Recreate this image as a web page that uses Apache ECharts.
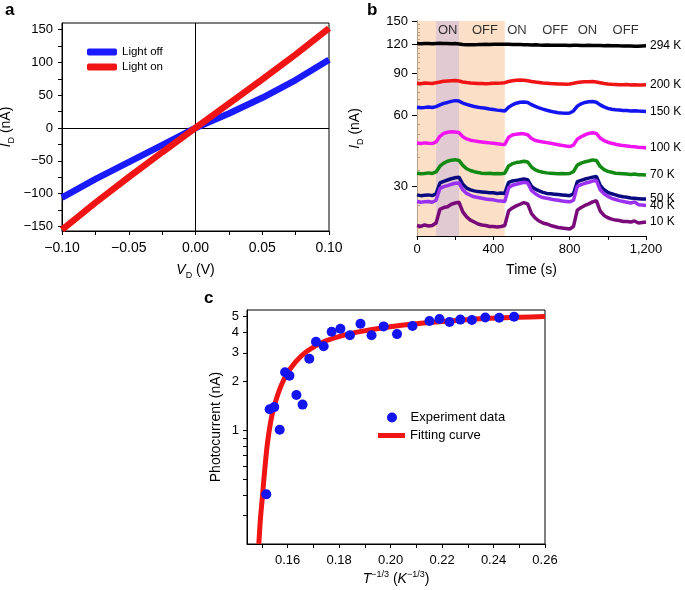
<!DOCTYPE html>
<html><head><meta charset="utf-8">
<script src="https://cdn.jsdelivr.net/npm/echarts@6/dist/echarts.min.js"></script>
<style>html,body{margin:0;padding:0;background:#fff}#c{width:685px;height:590px}</style>
</head><body><div id="c"></div>
<script>
const FONT = "'Liberation Sans', Arial, Helvetica, sans-serif";

// ---------- Panel a ----------
const vd = [-0.1, -0.075, -0.05, -0.025, 0, 0.025, 0.05, 0.075, 0.1];
const lightOff = [-106, -78, -52, -26, 0, 22, 46, 73, 104];
const lightOn = [-155, -114, -75, -37, 0, 37, 74, 112, 152];
const aXTicks = [-0.1, -0.075, -0.05, -0.025, 0, 0.025, 0.05, 0.075, 0.1];
const aXLabels = [-0.1, -0.05, 0, 0.05, 0.1];
const aYTicks = [-150, -125, -100, -75, -50, -25, 0, 25, 50, 75, 100, 125, 150];
const aYLabels = [-150, -100, -50, 0, 50, 100, 150];

// ---------- Panel b ----------
const times = [0,20,40,60,80,100,120,140,160,180,200,220,240,260,280,300,320,340,360,380,400,420,440,460,480,500,520,540,560,580,600,620,640,660,680,700,720,740,760,780,800,820,840,860,880,900,920,940,960,980,1000,1020,1040,1060,1080,1100,1120,1140,1160,1180,1200];
const k294 = [120.5,120.3,120.6,120.4,120.2,120.5,120.7,120.4,120.6,120.3, 120.4,120.0,119.3,119.0,118.9,119.1,119.2,119.4,119.5,119.4, 119.6,119.5,119.7,119.6,119.5,119.4,119.3,119.2,119.0,118.9, 118.8,118.9,118.7,118.6,118.7,118.5,118.6,118.5,118.4,118.5, 118.3,118.4,118.5,118.3,118.2,118.4,118.3,118.2,118.1,118.0, 118.1,117.9,118.0,117.8,117.7,117.6,117.7,117.4,117.3,117.6,117.8];
const k200 = [81.8,81.5,82.0,81.9,81.6,82.3,82.8,83.4,83.6,83.8, 84.0,83.6,82.9,82.4,82.0,81.8,81.6,81.7,81.5,81.6, 81.8,81.9,82.0,82.3,83.2,83.8,84.2,84.5,84.2,83.9, 83.3,82.8,82.4,82.0,81.8,81.6,81.5,81.3,81.2,81.1, 81.3,81.8,82.4,82.8,83.0,83.1,83.2,82.9,82.3,81.7, 81.3,81.0,80.9,80.7,80.6,80.8,80.5,80.6,80.4,80.5,80.6];
const k150 = [64.8,64.5,64.7,65.0,64.6,65.2,66.3,67.3,67.9,68.6, 69.1,68.8,67.5,66.6,65.9,65.3,64.8,64.4,64.1,63.7, 63.4,63.0,62.7,62.4,64.8,66.3,67.4,68.0,68.2,67.8, 66.4,65.3,64.4,63.6,62.9,62.3,61.8,61.4,61.2,61.1, 61.3,62.5,65.5,67.0,67.9,68.3,68.5,68.0,66.3,65.0, 64.1,63.5,63.2,63.0,62.8,62.7,62.5,62.6,62.4,62.3,62.2];
const k100 = [45.7,45.5,45.8,45.6,45.5,46.2,48.8,50.2,50.8,51.0, 50.9,50.6,48.6,47.6,47.0,46.7,46.4,46.2,46.0,45.8, 45.6,45.4,45.2,45.1,48.4,49.5,49.8,50.1,50.0,49.6, 47.8,46.9,46.5,46.2,45.9,45.6,45.3,45.0,44.7,44.4, 44.2,44.8,47.5,48.6,49.5,50.2,50.5,50.2,48.0,46.8, 46.1,45.6,45.2,44.9,44.6,44.4,44.2,44.1,43.9,43.8,43.7];
const k70 = [34.1,33.9,34.0,34.2,34.0,34.5,36.5,37.6,38.3,38.7, 38.9,38.6,36.8,35.6,35.0,34.6,34.3,34.1,34.0,34.1, 33.9,34.0,33.9,34.1,36.6,37.4,37.8,38.0,38.3,38.0, 36.2,35.2,34.7,34.4,34.2,34.1,34.0,33.9,34.0,33.9, 34.0,34.6,36.9,37.6,38.1,38.4,38.8,38.6,36.4,35.3, 34.7,34.4,34.1,34.0,33.9,33.8,33.7,33.8,33.6,33.6,33.5];
const k50 = [27.6,27.4,27.5,27.6,27.4,27.9,31.0,31.5,31.9,32.3, 32.6,32.8,30.6,29.5,29.0,28.7,28.5,28.4,28.3,28.2, 28.2,28.0,28.1,28.0,31.2,31.6,31.8,32.0,32.2,32.0, 30.0,29.2,28.7,28.3,28.0,27.9,27.8,27.7,27.6,27.5, 27.4,27.9,31.4,31.8,32.2,32.5,32.8,33.0,30.3,29.0, 28.3,27.9,27.6,27.3,27.1,27.0,26.8,26.7,26.6,26.5,26.5];
const k40 = [25.9,25.7,25.8,25.9,25.7,26.2,29.4,29.9,30.2,30.6, 30.9,31.0,29.0,28.0,27.5,27.1,26.9,26.7,26.5,26.4, 26.3,26.1,26.0,25.9,29.6,30.3,30.6,30.9,31.2,31.0, 28.8,27.9,27.3,26.9,26.7,26.5,26.3,26.2,26.0,25.9, 25.8,26.2,30.0,30.5,30.9,31.2,31.6,31.8,29.0,27.9, 27.2,26.7,26.4,26.1,25.9,25.7,25.5,25.8,25.1,25.0,24.9];
const k10 = [20.5,20.3,20.6,20.4,20.5,21.0,24.0,24.4,24.6,25.2, 25.5,25.7,23.4,22.3,21.6,21.2,20.8,20.6,20.5,20.3, 20.3,20.2,20.3,20.5,23.6,24.3,24.8,25.2,25.6,25.3, 23.0,22.0,21.4,21.0,20.8,20.5,20.3,20.1,20.0,19.9, 19.8,20.3,23.8,24.4,24.9,25.3,25.8,26.1,23.6,22.6, 22.1,21.8,21.6,21.5,21.3,21.3,21.2,21.4,21.0,21.1,21.2];
const bNames = ['294 K', '200 K', '150 K', '100 K', '70 K', '50 K', '40 K', '10 K'];
const bValues = [k294, k200, k150, k100, k70, k50, k40, k10];
const bColors = ['#000000', '#f01414', '#1414f0', '#f014f0', '#138a13', '#0a0a80', '#9a30f0', '#7a0a7a'];
const bXTicks = [0, 200, 400, 600, 800, 1000, 1200];
const bXLabels = [0, 400, 800, 1200];
const bYLabels = [30, 60, 90, 120, 150];
const bYMinor = [20, 25, 35, 40, 45, 50, 55, 65, 70, 75, 80, 85, 95, 100, 105, 110, 115, 125, 130, 135, 140, 145];
const shadedSpan = [0, 460];
const onSpan = [100, 220];
const stateText = ['ON', 'OFF', 'ON', 'OFF', 'ON', 'OFF'];
const stateTime = [161, 356, 524, 724, 893, 1093];
const stateLevel = 137;

// ---------- Panel c ----------
const tInv = [0.1517,0.1530,0.1548,0.1569,0.1590,0.1607,0.1634,0.1658,0.1684,0.1710,0.1740,0.1771,0.1805,0.1842,0.1883,0.1926,0.1973,0.2025,0.2085,0.2151,0.2190,0.2229,0.2271,0.2316,0.2368,0.2422,0.2480];
const photo = [0.404,1.35,1.39,1.01,2.28,2.17,1.65,1.44,2.76,3.51,3.29,4.04,4.22,3.85,4.53,3.85,4.36,3.91,4.38,4.71,4.84,4.64,4.80,4.77,4.94,4.93,5.0];
const fitX = [0.1488,0.1494,0.1501,0.1510,0.1522,0.1539,0.1561,0.1591,0.1630,0.1675,0.1740,0.1805,0.1870,0.1999,0.2128,0.2258,0.2387,0.2500,0.2600];
const fitY = [0.2,0.283,0.377,0.551,0.846,1.24,1.65,2.14,2.63,3.07,3.51,3.80,4.02,4.34,4.58,4.75,4.89,4.96,5.02];
const cXTicks = [0.15,0.16,0.17,0.18,0.19,0.20,0.21,0.22,0.23,0.24,0.25,0.26];
const cXLabels = [0.16,0.18,0.20,0.22,0.24,0.26];
const cYTicks = [0.3,0.4,0.5,0.6,0.7,0.8,0.9,1,2,3,4,5];
const cYLabels = [1,2,3,4,5];

const neg = v => (v < 0 ? '\u2212' : '');
const black = '#000';
const lbl = {color: black, fontFamily: FONT, fontSize: 13};
function axisBase(extra) {
  return Object.assign({
    splitLine: {show: false},
    axisLine: {show: true, onZero: false, lineStyle: {color: black, width: 1}},
    nameTextStyle: {color: black, fontFamily: FONT, fontSize: 13}
  }, extra);
}
const richSub = {
  i: {fontStyle: 'italic', fontSize: 14, fontFamily: FONT, color: black, lineHeight: 20},
  s: {fontSize: 9, fontFamily: FONT, color: black, verticalAlign: 'bottom', lineHeight: 10},
  p: {fontSize: 14, fontFamily: FONT, color: black, lineHeight: 20}
};
const richSup = {
  i: {fontStyle: 'italic', fontSize: 14, fontFamily: FONT, color: black, lineHeight: 19},
  u: {fontSize: 9, fontFamily: FONT, color: black, verticalAlign: 'top', lineHeight: 10},
  p: {fontSize: 14, fontFamily: FONT, color: black, lineHeight: 19}
};

const chart = echarts.init(document.getElementById('c'), null, {renderer: 'canvas'});

const series = [];
// panel a
series.push({
  name: 'Light off', type: 'line', xAxisIndex: 0, yAxisIndex: 0, showSymbol: false, symbol: 'none',
  data: vd.map((v, i) => [v, lightOff[i]]), lineStyle: {color: '#1a1aff', width: 6.5}, itemStyle: {color: '#1a1aff'}, z: 3,
  markLine: {silent: true, symbol: 'none', label: {show: false}, lineStyle: {color: black, width: 1, type: 'solid'},
    data: [{xAxis: 0}, {yAxis: 0}], z: 1}
});
series.push({
  name: 'Light on', type: 'line', xAxisIndex: 0, yAxisIndex: 0, showSymbol: false, symbol: 'none',
  data: vd.map((v, i) => [v, lightOn[i]]), lineStyle: {color: '#f01414', width: 6.5}, itemStyle: {color: '#f01414'}, z: 4
});
// panel b shading
series.push({
  type: 'line', xAxisIndex: 1, yAxisIndex: 1, data: [], silent: true, z: 1,
  markArea: {silent: true, data: [
    [{xAxis: shadedSpan[0], itemStyle: {color: 'rgba(250,214,180,0.75)'}}, {xAxis: shadedSpan[1]}],
    [{xAxis: onSpan[0], itemStyle: {color: 'rgba(200,180,222,0.5)'}}, {xAxis: onSpan[1]}]
  ]}
});
bNames.forEach((n, k) => {
  series.push({
    name: n, type: 'line', xAxisIndex: 1, yAxisIndex: 1, showSymbol: false, symbol: 'none', z: 3,
    data: times.map((t, i) => [t, bValues[k][i]]),
    lineStyle: {color: bColors[k], width: 3.5}, itemStyle: {color: bColors[k]},
    endLabel: {show: true, formatter: n, color: black, fontFamily: FONT, fontSize: 12, distance: 4}
  });
});
series.push({
  type: 'scatter', xAxisIndex: 1, yAxisIndex: 1, symbolSize: 0, silent: true, z: 4,
  data: stateText.map((s, i) => ({name: s, value: [stateTime[i], stateLevel]})),
  label: {show: true, position: 'inside', formatter: p => p.name, color: black, fontFamily: FONT, fontSize: 13}
});
// panel c
series.push({
  name: 'Fitting curve', type: 'line', xAxisIndex: 2, yAxisIndex: 3, showSymbol: false, symbol: 'none', smooth: 0.3,
  data: fitX.map((v, i) => [v, fitY[i]]), lineStyle: {color: '#f01414', width: 5}, itemStyle: {color: '#f01414'}, z: 3
});
series.push({
  name: 'Experiment data', type: 'scatter', xAxisIndex: 2, yAxisIndex: 3, symbolSize: 10,
  data: tInv.map((v, i) => [v, photo[i]]), itemStyle: {color: '#1414f0', opacity: 1}, z: 4
});

const option = {
  animation: false,
  backgroundColor: '#fff',
  textStyle: {fontFamily: FONT},
  grid: [
    {left: 62, top: 23, width: 267, height: 208, show: true, borderColor: black, borderWidth: 1, backgroundColor: 'transparent', outerBoundsMode: 'none'},
    {left: 417, top: 21, width: 229, height: 215, show: false, outerBoundsMode: 'none'},
    {left: 247, top: 310, width: 298, height: 234, show: true, borderColor: black, borderWidth: 1, backgroundColor: 'transparent', outerBoundsMode: 'none'}
  ],
  legend: [
    {data: ['Light off', 'Light on'], orient: 'vertical', left: 87, top: 46, padding: 0, itemWidth: 30, itemHeight: 7, itemGap: 3,
      icon: 'roundRect', textStyle: {color: black, fontFamily: FONT, fontSize: 11.5}, selectedMode: false},
    {data: ['Experiment data'], left: 387, top: 411, padding: 0, itemWidth: 27, itemHeight: 10, icon: 'circle',
      textStyle: {color: black, fontFamily: FONT, fontSize: 13}, selectedMode: false},
    {data: ['Fitting curve'], left: 378, top: 429, padding: 0, itemWidth: 27, itemHeight: 5, icon: 'rect',
      textStyle: {color: black, fontFamily: FONT, fontSize: 13}, selectedMode: false}
  ],
  xAxis: [
    axisBase({gridIndex: 0, type: 'value', min: -0.1, max: 0.1,
      axisTick: {show: true, customValues: aXTicks, length: 4, lineStyle: {color: black}},
      axisLabel: Object.assign({}, lbl, {customValues: aXLabels, margin: 10, fontSize: 14, formatter: v => neg(v) + Math.abs(v).toFixed(2)}),
      name: '{i|V}{s|D}{p| (V)}', nameLocation: 'middle', nameGap: 29, nameTextStyle: {rich: richSub}}),
    axisBase({gridIndex: 1, type: 'value', min: 0, max: 1200,
      axisTick: {show: true, customValues: bXTicks, length: 4, lineStyle: {color: black}},
      axisLabel: Object.assign({}, lbl, {customValues: bXLabels, margin: 7, formatter: v => v >= 1000 ? Math.floor(v / 1000) + ',' + String(v % 1000).padStart(3, '0') : String(v)}),
      name: 'Time (s)', nameLocation: 'middle', nameGap: 27, nameTextStyle: {color: black, fontFamily: FONT, fontSize: 14}}),
    axisBase({gridIndex: 2, type: 'value', min: 0.1442, max: 0.26,
      axisTick: {show: true, customValues: cXTicks, length: 4, lineStyle: {color: black}},
      axisLabel: Object.assign({}, lbl, {customValues: cXLabels, margin: 10, formatter: v => v.toFixed(2)}),
      name: '{i|T}{u|\u22121/3}{p| (}{i|K}{u|\u22121/3}{p|)}', nameLocation: 'middle', nameGap: 26, nameTextStyle: {rich: richSup}})
  ],
  yAxis: [
    axisBase({gridIndex: 0, type: 'value', min: -157, max: 160,
      axisTick: {show: true, customValues: aYTicks, length: 4, lineStyle: {color: black}},
      axisLabel: Object.assign({}, lbl, {customValues: aYLabels, margin: 9, formatter: v => neg(v) + Math.abs(v)}),
      name: '{i|I}{s|D}{p| (nA)}', nameLocation: 'middle', nameGap: 46, nameTextStyle: {rich: richSub}}),
    axisBase({gridIndex: 1, type: 'log', logBase: 10, min: 18.5, max: 150,
      axisTick: {show: true, customValues: bYLabels, length: 5, lineStyle: {color: black}},
      axisLabel: Object.assign({}, lbl, {customValues: bYLabels, margin: 9}),
      name: '{i|I}{s|D}{p| (nA)}', nameLocation: 'middle', nameGap: 52, nameTextStyle: {rich: richSub}}),
    {gridIndex: 1, type: 'log', logBase: 10, min: 18.5, max: 150, splitLine: {show: false},
      axisLine: {show: false}, axisLabel: {show: false},
      axisTick: {show: true, customValues: bYMinor, length: 3, lineStyle: {color: black}}},
    axisBase({gridIndex: 2, type: 'log', logBase: 10, min: 0.2, max: 5.5,
      axisTick: {show: true, customValues: cYTicks, length: 4, lineStyle: {color: black}},
      axisLabel: Object.assign({}, lbl, {customValues: cYLabels, margin: 8}),
      name: 'Photocurrent (nA)', nameLocation: 'middle', nameGap: 24, nameTextStyle: {color: black, fontFamily: FONT, fontSize: 14}})
  ],
  graphic: [
    {type: 'text', left: 5, top: 2, style: {text: 'a', font: 'bold 17px ' + FONT, fill: black}},
    {type: 'text', left: 367, top: 2, style: {text: 'b', font: 'bold 17px ' + FONT, fill: black}},
    {type: 'text', left: 204, top: 290, style: {text: 'c', font: 'bold 17px ' + FONT, fill: black}}
  ],
  series: series
};
chart.setOption(option);
</script></body></html>
